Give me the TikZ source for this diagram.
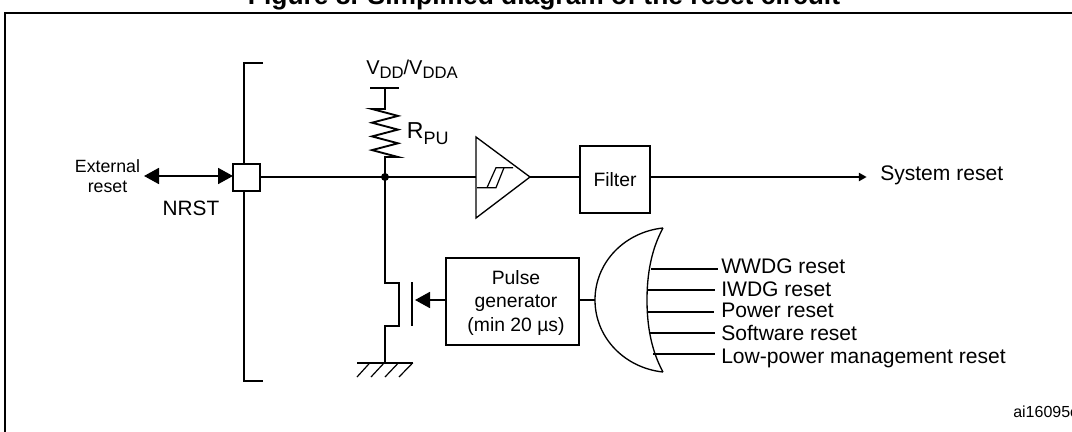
\documentclass[tikz,border=0pt]{standalone}
\usepackage{fontspec}
\setmainfont{Liberation Sans}
\usetikzlibrary{arrows.meta}
\tikzset{
  wire/.style={draw=black,line width=1.4pt},
  thin wire/.style={draw=black,line width=1pt},
  boxed/.style={draw=black,line width=1.4pt,fill=white,inner sep=0pt,align=center,font=\fontsize{14.5}{17.6}\selectfont},
  lab/.style={inner sep=0pt,anchor=base west,font=\fontsize{15.8}{18}\selectfont},
  big head/.style={-{Triangle[length=11.25pt,width=12pt]}},
}
\begin{document}
\begin{tikzpicture}[x=0.75pt,y=-0.75pt]
\useasboundingbox (0,0) rectangle (1072,432);
\clip (0,0) rectangle (1072,432);
% frame and title
\draw[line width=1.5pt] (4.5,440) -- (4.5,13) -- (1080,13);
\node[anchor=base,inner sep=0pt,font=\bfseries\fontsize{19.8}{22}\selectfont] (title) at (544,5) {Figure 8. Simplified diagram of the reset circuit};
% package edge
\coordinate (bt) at (263,62.7);
\coordinate (bb) at (263,381);
\draw[wire] (bt) -- (243.7,62.7) -- (243.7,381) -- (bb);
% nodes
\node[boxed,minimum width=20.5pt,minimum height=20.3pt] (pin) at (246.4,177.5) {};
\node[boxed,minimum width=52.5pt,minimum height=50.2pt] (filter) at (615,179.5) {Filter};
\node[boxed,minimum width=100pt,minimum height=65pt] (pulse) at (512.5,301.5) {};
\node[inner sep=0pt,align=center,anchor=base,font=\fontsize{14.5}{17.6}\selectfont] (pulsetext) at (516,331) {Pulse\\generator\\(min 20 µs)};
\coordinate (junction) at (385,177);
\coordinate (xl) at (144,176);
\coordinate (xr) at (233,176);
\coordinate (sys) at (866.7,177);
\coordinate (orin) at (595,300);
% external reset
\draw[wire,{Triangle[length=11.25pt,width=12pt]}-{Triangle[length=11.25pt,width=12pt]}] (xl) -- (xr);
\node[align=center,inner sep=0pt,anchor=base,font=\fontsize{13.3}{15.4}\selectfont] (ext) at (107.5,192.7) {External\\reset};
\node[lab,anchor=base,font=\fontsize{15.6}{18}\selectfont] (nrst) at (191,215) {NRST};
% supply and resistor
\coordinate (vddbarl) at (370,88);
\coordinate (vddbarr) at (399,88);
\draw[wire] (vddbarl) -- (vddbarr);
\draw[wire,line join=miter] (385,88) -- (385,109) -- (372,109) -- (398,115.9) -- (372,122.7) -- (398,129.6) -- (372,136.4) -- (398,143.3) -- (372,150.1) -- (398,157) -- (385,157) -- (junction);
\node[lab,font=\fontsize{15}{18}\selectfont] (vdd) at (366,74) {V\raisebox{-3.7pt}{\fontsize{12.5}{14}\selectfont DD}/V\raisebox{-3.7pt}{\fontsize{12.5}{14}\selectfont DDA}};
\node[lab,font=\fontsize{17.3}{20}\selectfont] (rpu) at (406.7,138.3) {R\raisebox{-5pt}{\fontsize{13.5}{16}\selectfont PU}};
% main line
\draw[wire] (pin.east |- junction) -- (junction) -- (476,177);
\fill (junction) circle (3pt);
% schmitt
\coordinate (sa) at (476,137);
\coordinate (sb) at (476,218);
\coordinate (sc) at (530,177);
\draw[thin wire,line join=miter] (sa) -- (sb) -- (sc) -- cycle;
\draw[line width=0.9pt] (477,187.7) -- (496,187.7) -- (504,167.7) -- (513,167.7);
\draw[line width=0.9pt] (487,187.7) -- (496,167.7) -- (504,167.7);
\draw[wire] (sc) -- (filter.west |- sc);
\draw[wire,-{Triangle[length=5.8pt,width=6pt]}] (filter.east |- sys) -- (sys);
\node[lab] (sysl) at (880,180.7) {System reset};
% transistor
\draw[wire] (junction) -- (385,282.7) -- (399,282.7) -- (399,325.7) -- (385,325.7) -- (385,362.7);
\draw[wire] (412,282) -- (412,325.7);
\coordinate (gate) at (415,300);
\draw[wire,big head] (pulse.west |- gate) -- (gate);
% ground
\draw[wire] (357,362.7) -- (413,362.7);
\foreach \i in {0,1,2,3}{
  \draw[line width=0.9pt] (370+14.3*\i,362.7) -- (357+14*\i,377);
}
% or gate
\draw[thin wire] (pulse.east |- orin) -- (orin);
\draw[thin wire] (663,372) .. controls (625,368) and (595,338) .. (orin) .. controls (595,262) and (625,232) .. (663,228);
\draw[thin wire] (663,372) .. controls (651,350) and (647,325) .. (647,300) .. controls (647,275) and (651,250) .. (663,228);
% or gate inputs
\foreach \y/\b/\xa/\xb/\t/\n in {269/273.3/651/718/WWDG reset/a,290/296/647.5/715/IWDG reset/b,311.7/317.7/647.5/714/Power reset/c,332.7/340.7/650/715/Software reset/d,354/363/653/715/Low-power management reset/e}{
  \draw[wire] (\xa,\y) -- (\xb,\y);
  \node[lab] (in\n) at (721,\b) {\t};
}
\node[lab,font=\fontsize{12}{14}\selectfont] (code) at (1013,417) {ai16095c};
\end{tikzpicture}
\end{document}
